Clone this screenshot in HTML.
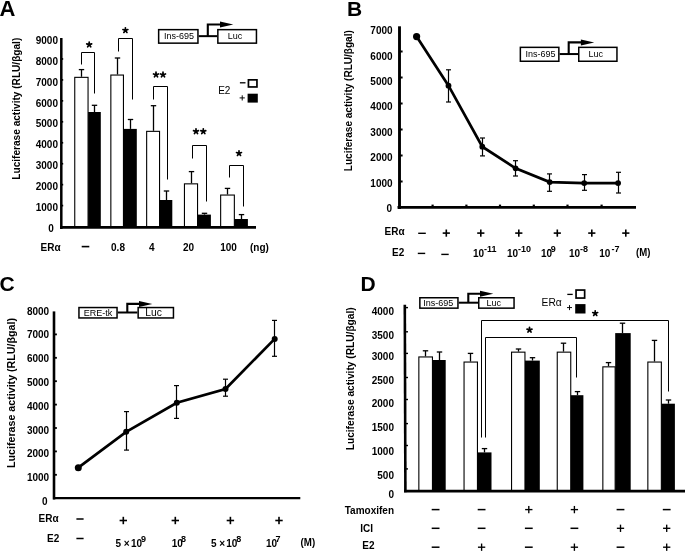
<!DOCTYPE html>
<html><head><meta charset="utf-8"><style>
html,body{margin:0;padding:0;background:#fff;overflow:hidden;}
svg{display:block;font-family:"Liberation Sans", sans-serif;filter:grayscale(1);}
</style></head><body>
<svg width="685" height="551" viewBox="0 0 685 551">
<rect width="685" height="551" fill="#fff"/>
<text x="-0.5" y="15.7" font-size="22" font-weight="bold" text-anchor="start" fill="#000" >A</text>
<text transform="translate(20.2,108.7) rotate(-90)" x="0" y="0" font-size="10" font-weight="bold" text-anchor="middle" textLength="142" lengthAdjust="spacingAndGlyphs">Luciferase activity (RLU/βgal)</text>
<text x="58" y="43.800000000000004" font-size="10" font-weight="bold" text-anchor="end" fill="#000" >9000</text>
<text x="58" y="64.72" font-size="10" font-weight="bold" text-anchor="end" fill="#000" >8000</text>
<text x="58" y="85.64" font-size="10" font-weight="bold" text-anchor="end" fill="#000" >7000</text>
<text x="58" y="106.56" font-size="10" font-weight="bold" text-anchor="end" fill="#000" >6000</text>
<text x="58" y="127.48" font-size="10" font-weight="bold" text-anchor="end" fill="#000" >5000</text>
<text x="58" y="148.4" font-size="10" font-weight="bold" text-anchor="end" fill="#000" >4000</text>
<text x="58" y="169.32000000000002" font-size="10" font-weight="bold" text-anchor="end" fill="#000" >3000</text>
<text x="58" y="190.23999999999998" font-size="10" font-weight="bold" text-anchor="end" fill="#000" >2000</text>
<text x="58" y="211.16" font-size="10" font-weight="bold" text-anchor="end" fill="#000" >1000</text>
<text x="53.9" y="232.08" font-size="10" font-weight="bold" text-anchor="end" fill="#000" >0</text>
<line x1="61" y1="58.95" x2="63.2" y2="58.95" stroke="#000" stroke-width="1.7"/>
<line x1="61" y1="79.9" x2="63.2" y2="79.9" stroke="#000" stroke-width="1.7"/>
<line x1="61" y1="100.85" x2="63.2" y2="100.85" stroke="#000" stroke-width="1.7"/>
<line x1="61" y1="121.8" x2="63.2" y2="121.8" stroke="#000" stroke-width="1.7"/>
<line x1="61" y1="142.75" x2="63.2" y2="142.75" stroke="#000" stroke-width="1.7"/>
<line x1="61" y1="163.7" x2="63.2" y2="163.7" stroke="#000" stroke-width="1.7"/>
<line x1="61" y1="184.65" x2="63.2" y2="184.65" stroke="#000" stroke-width="1.7"/>
<line x1="61" y1="205.6" x2="63.2" y2="205.6" stroke="#000" stroke-width="1.7"/>
<line x1="81.5" y1="69.6" x2="81.5" y2="76.8" stroke="#000" stroke-width="1.3"/>
<line x1="78.8" y1="69.6" x2="84.2" y2="69.6" stroke="#000" stroke-width="1.3"/>
<line x1="94.5" y1="105.3" x2="94.5" y2="112" stroke="#000" stroke-width="1.3"/>
<line x1="91.8" y1="105.3" x2="97.2" y2="105.3" stroke="#000" stroke-width="1.3"/>
<rect x="74.75" y="77.35" width="13.299999999999992" height="149.79999999999998" fill="#fff" stroke="#000" stroke-width="1.1"/>
<rect x="88.1" y="112" width="12.700000000000003" height="115.69999999999999" fill="#000"/>
<line x1="117.5" y1="58.0" x2="117.5" y2="74.5" stroke="#000" stroke-width="1.3"/>
<line x1="114.8" y1="58.0" x2="120.2" y2="58.0" stroke="#000" stroke-width="1.3"/>
<line x1="130.5" y1="119.5" x2="130.5" y2="128.9" stroke="#000" stroke-width="1.3"/>
<line x1="127.8" y1="119.5" x2="133.2" y2="119.5" stroke="#000" stroke-width="1.3"/>
<rect x="110.85" y="75.05" width="12.600000000000003" height="152.1" fill="#fff" stroke="#000" stroke-width="1.1"/>
<rect x="123.5" y="128.9" width="13.300000000000011" height="98.79999999999998" fill="#000"/>
<line x1="153.5" y1="105.7" x2="153.5" y2="130.8" stroke="#000" stroke-width="1.3"/>
<line x1="150.8" y1="105.7" x2="156.2" y2="105.7" stroke="#000" stroke-width="1.3"/>
<line x1="166.5" y1="191" x2="166.5" y2="200" stroke="#000" stroke-width="1.3"/>
<line x1="163.8" y1="191" x2="169.2" y2="191" stroke="#000" stroke-width="1.3"/>
<rect x="146.65" y="131.35000000000002" width="12.9" height="95.79999999999998" fill="#fff" stroke="#000" stroke-width="1.1"/>
<rect x="159.6" y="200" width="12.700000000000017" height="27.69999999999999" fill="#000"/>
<line x1="191.5" y1="171.6" x2="191.5" y2="183.3" stroke="#000" stroke-width="1.3"/>
<line x1="188.8" y1="171.6" x2="194.2" y2="171.6" stroke="#000" stroke-width="1.3"/>
<line x1="204.5" y1="213.3" x2="204.5" y2="214.6" stroke="#000" stroke-width="1.3"/>
<line x1="201.8" y1="213.3" x2="207.2" y2="213.3" stroke="#000" stroke-width="1.3"/>
<rect x="184.45000000000002" y="183.85000000000002" width="13.099999999999989" height="43.299999999999976" fill="#fff" stroke="#000" stroke-width="1.1"/>
<rect x="197.6" y="214.6" width="13.300000000000011" height="13.099999999999994" fill="#000"/>
<line x1="227.5" y1="188.4" x2="227.5" y2="194.5" stroke="#000" stroke-width="1.3"/>
<line x1="224.8" y1="188.4" x2="230.2" y2="188.4" stroke="#000" stroke-width="1.3"/>
<line x1="241.5" y1="214.6" x2="241.5" y2="219" stroke="#000" stroke-width="1.3"/>
<line x1="238.8" y1="214.6" x2="244.2" y2="214.6" stroke="#000" stroke-width="1.3"/>
<rect x="220.65" y="195.05" width="13.700000000000012" height="32.09999999999999" fill="#fff" stroke="#000" stroke-width="1.1"/>
<rect x="234.4" y="219" width="13.5" height="8.699999999999989" fill="#000"/>
<line x1="61.3" y1="38" x2="61.3" y2="229" stroke="#000" stroke-width="2.5"/>
<line x1="60" y1="227.4" x2="256" y2="227.4" stroke="#000" stroke-width="2.9"/>
<polyline points="81.5,64.5 81.5,52.5 94.5,52.5 94.5,93.5" fill="none" stroke="#000" stroke-width="1.0" stroke-linejoin="miter"/>
<polyline points="118.5,51.5 118.5,38.5 132.5,38.5 132.5,99.5" fill="none" stroke="#000" stroke-width="1.0" stroke-linejoin="miter"/>
<polyline points="153.5,99.5 153.5,86.5 167.5,86.5 167.5,179.5" fill="none" stroke="#000" stroke-width="1.0" stroke-linejoin="miter"/>
<polyline points="192.5,158.5 192.5,145.5 206.5,145.5 206.5,201.5" fill="none" stroke="#000" stroke-width="1.0" stroke-linejoin="miter"/>
<polyline points="229.5,177.5 229.5,165.5 243.5,165.5 243.5,206.5" fill="none" stroke="#000" stroke-width="1.0" stroke-linejoin="miter"/>
<path d="M89.20,44.65L89.20,42.05M89.20,44.65L91.67,43.85M89.20,44.65L90.73,46.75M89.20,44.65L87.67,46.75M89.20,44.65L86.73,43.85" stroke="#000" stroke-width="1.7" stroke-linecap="round" fill="none"/>
<circle cx="89.2" cy="44.65" r="1.3" fill="#000"/>
<path d="M125.40,30.35L125.40,27.75M125.40,30.35L127.87,29.55M125.40,30.35L126.93,32.45M125.40,30.35L123.87,32.45M125.40,30.35L122.93,29.55" stroke="#000" stroke-width="1.7" stroke-linecap="round" fill="none"/>
<circle cx="125.4" cy="30.35" r="1.3" fill="#000"/>
<path d="M156.00,74.75L156.00,72.15M156.00,74.75L158.47,73.95M156.00,74.75L157.53,76.85M156.00,74.75L154.47,76.85M156.00,74.75L153.53,73.95" stroke="#000" stroke-width="1.7" stroke-linecap="round" fill="none"/>
<circle cx="156.0" cy="74.75" r="1.3" fill="#000"/>
<path d="M163.00,74.75L163.00,72.15M163.00,74.75L165.47,73.95M163.00,74.75L164.53,76.85M163.00,74.75L161.47,76.85M163.00,74.75L160.53,73.95" stroke="#000" stroke-width="1.7" stroke-linecap="round" fill="none"/>
<circle cx="163.0" cy="74.75" r="1.3" fill="#000"/>
<path d="M196.00,131.45L196.00,128.85M196.00,131.45L198.47,130.65M196.00,131.45L197.53,133.55M196.00,131.45L194.47,133.55M196.00,131.45L193.53,130.65" stroke="#000" stroke-width="1.7" stroke-linecap="round" fill="none"/>
<circle cx="196.0" cy="131.45" r="1.3" fill="#000"/>
<path d="M203.30,131.45L203.30,128.85M203.30,131.45L205.77,130.65M203.30,131.45L204.83,133.55M203.30,131.45L201.77,133.55M203.30,131.45L200.83,130.65" stroke="#000" stroke-width="1.7" stroke-linecap="round" fill="none"/>
<circle cx="203.3" cy="131.45" r="1.3" fill="#000"/>
<path d="M239.00,153.35L239.00,150.75M239.00,153.35L241.47,152.55M239.00,153.35L240.53,155.45M239.00,153.35L237.47,155.45M239.00,153.35L236.53,152.55" stroke="#000" stroke-width="1.7" stroke-linecap="round" fill="none"/>
<circle cx="239" cy="153.35" r="1.3" fill="#000"/>
<text x="218.2" y="94.2" font-size="10" font-weight="normal" text-anchor="start" fill="#000" >E2</text>
<g fill="#333">
<rect x="239.89999999999998" y="82.14999999999999" width="5.600000000000023" height="1.3000000000000114" fill="#000"/>
</g>
<g fill="#777">
<rect x="239.6" y="97.42500000000001" width="5.199999999999989" height="0.9499999999999886" fill="#000"/>
<rect x="241.725" y="95.30000000000001" width="0.9499999999999886" height="5.199999999999989" fill="#000"/>
</g>
<rect x="248.45" y="79.85" width="8.500000000000018" height="7.099999999999997" fill="#fff" stroke="#000" stroke-width="1.7"/>
<rect x="247.6" y="93.7" width="10.200000000000017" height="8.899999999999991" fill="#000"/>
<rect x="158.65" y="29.65" width="39.29999999999998" height="13.5" fill="#fff" stroke="#000" stroke-width="1.5"/>
<rect x="217.85" y="29.65" width="38.599999999999994" height="13.5" fill="#fff" stroke="#000" stroke-width="1.5"/>
<line x1="198.7" y1="36.15" x2="217.1" y2="36.15" stroke="#000" stroke-width="2"/>
<polyline points="207.8,36.15 207.8,24.5 223.3,24.5" fill="none" stroke="#000" stroke-width="2.1" stroke-linejoin="miter"/>
<polygon points="220.0,21.5 233.3,24.5 220.0,27.5" fill="#000"/>
<text x="179" y="39.449999999999996" font-size="9" font-weight="normal" text-anchor="middle" fill="#000" >Ins-695</text>
<text x="235" y="39.449999999999996" font-size="9" font-weight="normal" text-anchor="middle" fill="#000" >Luc</text>
<text x="40.6" y="250.6" font-size="10" font-weight="bold" text-anchor="start" fill="#000" >ERα</text>
<rect x="81.7" y="245.79999999999998" width="7.599999999999994" height="1.6000000000000227" fill="#000"/>
<text x="118" y="250.6" font-size="10" font-weight="bold" text-anchor="middle" fill="#000" >0.8</text>
<text x="151.7" y="250.6" font-size="10" font-weight="bold" text-anchor="middle" fill="#000" >4</text>
<text x="188.5" y="250.6" font-size="10" font-weight="bold" text-anchor="middle" fill="#000" >20</text>
<text x="228.6" y="250.6" font-size="10" font-weight="bold" text-anchor="middle" fill="#000" >100</text>
<text x="250" y="251" font-size="10" font-weight="bold" text-anchor="start" fill="#000" >(ng)</text>
<text x="347" y="15.6" font-size="21" font-weight="bold" text-anchor="start" fill="#000" >B</text>
<text transform="translate(351.8,100.7) rotate(-90)" x="0" y="0" font-size="10" font-weight="bold" text-anchor="middle" textLength="141" lengthAdjust="spacingAndGlyphs">Luciferase activity (RLU/βgal)</text>
<text x="392.6" y="34.1" font-size="10" font-weight="bold" text-anchor="end" fill="#000" >7000</text>
<text x="392.6" y="59.53" font-size="10" font-weight="bold" text-anchor="end" fill="#000" >6000</text>
<text x="392.6" y="84.96" font-size="10" font-weight="bold" text-anchor="end" fill="#000" >5000</text>
<text x="392.6" y="110.38999999999999" font-size="10" font-weight="bold" text-anchor="end" fill="#000" >4000</text>
<text x="392.6" y="135.82" font-size="10" font-weight="bold" text-anchor="end" fill="#000" >3000</text>
<text x="392.6" y="161.25" font-size="10" font-weight="bold" text-anchor="end" fill="#000" >2000</text>
<text x="392.6" y="186.67999999999998" font-size="10" font-weight="bold" text-anchor="end" fill="#000" >1000</text>
<text x="392.1" y="212.10999999999999" font-size="10" font-weight="bold" text-anchor="end" fill="#000" >0</text>
<line x1="400" y1="181.5" x2="402.6" y2="181.5" stroke="#000" stroke-width="2.0"/>
<line x1="400" y1="155.5" x2="402.6" y2="155.5" stroke="#000" stroke-width="2.0"/>
<line x1="400" y1="129.5" x2="402.6" y2="129.5" stroke="#000" stroke-width="2.0"/>
<line x1="400" y1="103.5" x2="402.6" y2="103.5" stroke="#000" stroke-width="2.0"/>
<line x1="400" y1="77.5" x2="402.6" y2="77.5" stroke="#000" stroke-width="2.0"/>
<line x1="400" y1="51.5" x2="402.6" y2="51.5" stroke="#000" stroke-width="2.0"/>
<line x1="399.5" y1="26.3" x2="399.5" y2="209" stroke="#000" stroke-width="2.9"/>
<line x1="397.5" y1="207.4" x2="636" y2="207.4" stroke="#000" stroke-width="2.9"/>
<line x1="432.6" y1="204.6" x2="432.6" y2="207" stroke="#000" stroke-width="2.2"/>
<line x1="466.4" y1="204.6" x2="466.4" y2="207" stroke="#000" stroke-width="2.2"/>
<line x1="500" y1="204.6" x2="500" y2="207" stroke="#000" stroke-width="2.2"/>
<line x1="533.8" y1="204.6" x2="533.8" y2="207" stroke="#000" stroke-width="2.2"/>
<line x1="567.5" y1="204.6" x2="567.5" y2="207" stroke="#000" stroke-width="2.2"/>
<line x1="601.6" y1="204.6" x2="601.6" y2="207" stroke="#000" stroke-width="2.2"/>
<line x1="448.5" y1="69.8" x2="448.5" y2="102" stroke="#000" stroke-width="1.2"/>
<line x1="446.0" y1="69.8" x2="451.0" y2="69.8" stroke="#000" stroke-width="1.2"/>
<line x1="446.0" y1="102" x2="451.0" y2="102" stroke="#000" stroke-width="1.2"/>
<line x1="482.5" y1="138" x2="482.5" y2="155.9" stroke="#000" stroke-width="1.2"/>
<line x1="480.0" y1="138" x2="485.0" y2="138" stroke="#000" stroke-width="1.2"/>
<line x1="480.0" y1="155.9" x2="485.0" y2="155.9" stroke="#000" stroke-width="1.2"/>
<line x1="515.5" y1="160.7" x2="515.5" y2="176" stroke="#000" stroke-width="1.2"/>
<line x1="513.0" y1="160.7" x2="518.0" y2="160.7" stroke="#000" stroke-width="1.2"/>
<line x1="513.0" y1="176" x2="518.0" y2="176" stroke="#000" stroke-width="1.2"/>
<line x1="549.5" y1="173.9" x2="549.5" y2="191.3" stroke="#000" stroke-width="1.2"/>
<line x1="547.0" y1="173.9" x2="552.0" y2="173.9" stroke="#000" stroke-width="1.2"/>
<line x1="547.0" y1="191.3" x2="552.0" y2="191.3" stroke="#000" stroke-width="1.2"/>
<line x1="584.5" y1="174.6" x2="584.5" y2="190.3" stroke="#000" stroke-width="1.2"/>
<line x1="582.0" y1="174.6" x2="587.0" y2="174.6" stroke="#000" stroke-width="1.2"/>
<line x1="582.0" y1="190.3" x2="587.0" y2="190.3" stroke="#000" stroke-width="1.2"/>
<line x1="618.5" y1="172.3" x2="618.5" y2="193" stroke="#000" stroke-width="1.2"/>
<line x1="616.0" y1="172.3" x2="621.0" y2="172.3" stroke="#000" stroke-width="1.2"/>
<line x1="616.0" y1="193" x2="621.0" y2="193" stroke="#000" stroke-width="1.2"/>
<polyline points="416.6,36.6 448.5,85.7 482.3,146.7 515.6,168.3 549.7,182.1 584.2,183.1 618.1,183.1" fill="none" stroke="#000" stroke-width="2.7" stroke-linejoin="miter"/>
<circle cx="416.6" cy="36.6" r="3.6" fill="#000"/>
<circle cx="448.5" cy="85.7" r="2.9" fill="#000"/>
<circle cx="482.3" cy="146.7" r="2.9" fill="#000"/>
<circle cx="515.6" cy="168.3" r="2.9" fill="#000"/>
<circle cx="549.7" cy="182.1" r="2.9" fill="#000"/>
<circle cx="584.2" cy="183.1" r="2.9" fill="#000"/>
<circle cx="618.1" cy="183.1" r="2.9" fill="#000"/>
<rect x="520.35" y="47.35" width="38.5" height="13.899999999999999" fill="#fff" stroke="#000" stroke-width="1.5"/>
<rect x="578.75" y="47.35" width="38.200000000000045" height="13.899999999999999" fill="#fff" stroke="#000" stroke-width="1.5"/>
<line x1="559.6" y1="54.05" x2="578" y2="54.05" stroke="#000" stroke-width="2"/>
<polyline points="568.7,54.05 568.7,42.4 584.2,42.4" fill="none" stroke="#000" stroke-width="2.1" stroke-linejoin="miter"/>
<polygon points="580.9000000000001,39.4 594.2,42.4 580.9000000000001,45.4" fill="#000"/>
<text x="540.5" y="57.349999999999994" font-size="9" font-weight="normal" text-anchor="middle" fill="#000" >Ins-695</text>
<text x="595.7" y="57.349999999999994" font-size="9" font-weight="normal" text-anchor="middle" fill="#000" >Luc</text>
<text x="384.6" y="234.6" font-size="10" font-weight="bold" text-anchor="start" fill="#000" >ERα</text>
<text x="392" y="255.6" font-size="10" font-weight="bold" text-anchor="start" fill="#000" >E2</text>
<rect x="418.2" y="232.60000000000002" width="7.600000000000023" height="1.3999999999999773" fill="#000"/>
<rect x="442.7" y="232.29999999999998" width="7.2000000000000455" height="1.6000000000000227" fill="#000"/>
<rect x="445.5" y="229.5" width="1.6000000000000227" height="7.199999999999989" fill="#000"/>
<rect x="477.2" y="232.29999999999998" width="7.2000000000000455" height="1.6000000000000227" fill="#000"/>
<rect x="480.0" y="229.5" width="1.6000000000000227" height="7.199999999999989" fill="#000"/>
<rect x="515.1999999999999" y="232.29999999999998" width="7.2000000000000455" height="1.6000000000000227" fill="#000"/>
<rect x="518.0" y="229.5" width="1.599999999999909" height="7.199999999999989" fill="#000"/>
<rect x="553.6999999999999" y="232.29999999999998" width="7.2000000000000455" height="1.6000000000000227" fill="#000"/>
<rect x="556.5" y="229.5" width="1.599999999999909" height="7.199999999999989" fill="#000"/>
<rect x="588.1999999999999" y="232.29999999999998" width="7.2000000000000455" height="1.6000000000000227" fill="#000"/>
<rect x="591.0" y="229.5" width="1.599999999999909" height="7.199999999999989" fill="#000"/>
<rect x="622.1999999999999" y="232.29999999999998" width="7.2000000000000455" height="1.6000000000000227" fill="#000"/>
<rect x="625.0" y="229.5" width="1.599999999999909" height="7.199999999999989" fill="#000"/>
<rect x="417.8" y="252.70000000000002" width="7.399999999999977" height="1.3999999999999773" fill="#000"/>
<rect x="441.3" y="253.70000000000002" width="7.399999999999977" height="1.3999999999999773" fill="#000"/>
<text x="473" y="256.6" font-size="10" font-weight="bold" text-anchor="start" fill="#000" >10</text>
<text x="484.1" y="252.20000000000002" font-size="9" font-weight="bold" text-anchor="start" fill="#000" >-11</text>
<text x="507" y="256.6" font-size="10" font-weight="bold" text-anchor="start" fill="#000" >10</text>
<text x="518.1" y="252.20000000000002" font-size="9" font-weight="bold" text-anchor="start" fill="#000" >-10</text>
<text x="541" y="256.6" font-size="10" font-weight="bold" text-anchor="start" fill="#000" >10</text>
<text x="547.8000000000001" y="252.20000000000002" font-size="9" font-weight="bold" text-anchor="start" fill="#000" >-9</text>
<text x="569" y="256.6" font-size="10" font-weight="bold" text-anchor="start" fill="#000" >10</text>
<text x="580.1" y="252.20000000000002" font-size="9" font-weight="bold" text-anchor="start" fill="#000" >-8</text>
<text x="599.3" y="256.6" font-size="10" font-weight="bold" text-anchor="start" fill="#000" >10</text>
<text x="611.4" y="252.20000000000002" font-size="9" font-weight="bold" text-anchor="start" fill="#000" >-7</text>
<text x="636" y="255.6" font-size="10" font-weight="bold" text-anchor="start" fill="#000" textLength="14.4" lengthAdjust="spacingAndGlyphs">(M)</text>
<text x="-0.5" y="290.7" font-size="21" font-weight="bold" text-anchor="start" fill="#000" >C</text>
<text transform="translate(15,393) rotate(-90)" x="0" y="0" font-size="10" font-weight="bold" text-anchor="middle" textLength="150" lengthAdjust="spacingAndGlyphs">Luciferase activity (RLU/βgal)</text>
<text x="49.2" y="314.5" font-size="10" font-weight="bold" text-anchor="end" fill="#000" >8000</text>
<text x="49.2" y="338.33" font-size="10" font-weight="bold" text-anchor="end" fill="#000" >7000</text>
<text x="49.2" y="362.15999999999997" font-size="10" font-weight="bold" text-anchor="end" fill="#000" >6000</text>
<text x="49.2" y="385.99" font-size="10" font-weight="bold" text-anchor="end" fill="#000" >5000</text>
<text x="49.2" y="409.82" font-size="10" font-weight="bold" text-anchor="end" fill="#000" >4000</text>
<text x="49.2" y="433.65" font-size="10" font-weight="bold" text-anchor="end" fill="#000" >3000</text>
<text x="49.2" y="457.48" font-size="10" font-weight="bold" text-anchor="end" fill="#000" >2000</text>
<text x="49.2" y="481.31" font-size="10" font-weight="bold" text-anchor="end" fill="#000" >1000</text>
<text x="47.5" y="505.14" font-size="10" font-weight="bold" text-anchor="end" fill="#000" >0</text>
<line x1="54" y1="474.8" x2="56.9" y2="474.8" stroke="#000" stroke-width="1.8"/>
<line x1="54" y1="451.4" x2="56.9" y2="451.4" stroke="#000" stroke-width="1.8"/>
<line x1="54" y1="428.0" x2="56.9" y2="428.0" stroke="#000" stroke-width="1.8"/>
<line x1="54" y1="404.6" x2="56.9" y2="404.6" stroke="#000" stroke-width="1.8"/>
<line x1="54" y1="381.2" x2="56.9" y2="381.2" stroke="#000" stroke-width="1.8"/>
<line x1="54" y1="357.8" x2="56.9" y2="357.8" stroke="#000" stroke-width="1.8"/>
<line x1="54" y1="334.4" x2="56.9" y2="334.4" stroke="#000" stroke-width="1.8"/>
<line x1="54" y1="311.4" x2="54" y2="499.5" stroke="#000" stroke-width="2.6"/>
<line x1="53" y1="498.2" x2="300.3" y2="498.2" stroke="#000" stroke-width="2.3"/>
<line x1="126.5" y1="411.6" x2="126.5" y2="450.1" stroke="#000" stroke-width="1.2"/>
<line x1="124.0" y1="411.6" x2="129.0" y2="411.6" stroke="#000" stroke-width="1.2"/>
<line x1="124.0" y1="450.1" x2="129.0" y2="450.1" stroke="#000" stroke-width="1.2"/>
<line x1="176.5" y1="385.6" x2="176.5" y2="418.4" stroke="#000" stroke-width="1.2"/>
<line x1="174.0" y1="385.6" x2="179.0" y2="385.6" stroke="#000" stroke-width="1.2"/>
<line x1="174.0" y1="418.4" x2="179.0" y2="418.4" stroke="#000" stroke-width="1.2"/>
<line x1="225.5" y1="379.2" x2="225.5" y2="396.2" stroke="#000" stroke-width="1.2"/>
<line x1="223.0" y1="379.2" x2="228.0" y2="379.2" stroke="#000" stroke-width="1.2"/>
<line x1="223.0" y1="396.2" x2="228.0" y2="396.2" stroke="#000" stroke-width="1.2"/>
<line x1="274.5" y1="320.4" x2="274.5" y2="356.3" stroke="#000" stroke-width="1.2"/>
<line x1="272.0" y1="320.4" x2="277.0" y2="320.4" stroke="#000" stroke-width="1.2"/>
<line x1="272.0" y1="356.3" x2="277.0" y2="356.3" stroke="#000" stroke-width="1.2"/>
<polyline points="78.3,467.7 126.2,431.8 176.8,402.8 225.5,389 274.7,338.9" fill="none" stroke="#000" stroke-width="2.7" stroke-linejoin="miter"/>
<circle cx="78.3" cy="467.7" r="3.5" fill="#000"/>
<circle cx="126.2" cy="431.8" r="3.0" fill="#000"/>
<circle cx="176.8" cy="402.8" r="3.0" fill="#000"/>
<circle cx="225.5" cy="389" r="3.0" fill="#000"/>
<circle cx="274.7" cy="338.9" r="3.0" fill="#000"/>
<rect x="78.95" y="307.55" width="38.099999999999994" height="10.399999999999977" fill="#fff" stroke="#000" stroke-width="1.5"/>
<rect x="138.15" y="307.55" width="35.29999999999998" height="10.399999999999977" fill="#fff" stroke="#000" stroke-width="1.5"/>
<line x1="117.8" y1="312.5" x2="137.4" y2="312.5" stroke="#000" stroke-width="2"/>
<polyline points="127.3,312.5 127.3,303.9 142.3,303.9" fill="none" stroke="#000" stroke-width="2.1" stroke-linejoin="miter"/>
<polygon points="139.0,300.9 152.3,303.9 139.0,306.9" fill="#000"/>
<text x="98" y="315.8" font-size="9" font-weight="normal" text-anchor="middle" fill="#000" >ERE-tk</text>
<text x="153.6" y="316.0" font-size="10.3" font-weight="normal" text-anchor="middle" fill="#000" >Luc</text>
<text x="38.6" y="521.6" font-size="10" font-weight="bold" text-anchor="start" fill="#000" >ERα</text>
<text x="47" y="542.4" font-size="10" font-weight="bold" text-anchor="start" fill="#000" >E2</text>
<rect x="76.4" y="518.25" width="7.199999999999989" height="1.5" fill="#000"/>
<rect x="76.4" y="537.75" width="7.199999999999989" height="1.5" fill="#000"/>
<rect x="119.6" y="519.7" width="7.400000000000006" height="1.599999999999909" fill="#000"/>
<rect x="122.5" y="516.8" width="1.5999999999999943" height="7.400000000000091" fill="#000"/>
<rect x="171.60000000000002" y="519.7" width="7.399999999999977" height="1.599999999999909" fill="#000"/>
<rect x="174.5" y="516.8" width="1.6000000000000227" height="7.400000000000091" fill="#000"/>
<rect x="226.70000000000002" y="519.7" width="7.399999999999977" height="1.599999999999909" fill="#000"/>
<rect x="229.6" y="516.8" width="1.6000000000000227" height="7.400000000000091" fill="#000"/>
<rect x="275.3" y="519.7" width="7.399999999999977" height="1.599999999999909" fill="#000"/>
<rect x="278.2" y="516.8" width="1.6000000000000227" height="7.400000000000091" fill="#000"/>
<text x="115.6" y="547.4" font-size="10" font-weight="bold" text-anchor="start" fill="#000" >5</text>
<text x="123.8" y="547.1" font-size="10" font-weight="bold" text-anchor="start" fill="#000" >×</text>
<text x="130.9" y="547.4" font-size="10" font-weight="bold" text-anchor="start" fill="#000" >10</text>
<text x="140.9" y="542.4" font-size="9" font-weight="bold" text-anchor="start" fill="#000" >9</text>
<text x="171.8" y="547.4" font-size="10" font-weight="bold" text-anchor="start" fill="#000" >10</text>
<text x="181.1" y="542.4" font-size="9" font-weight="bold" text-anchor="start" fill="#000" >8</text>
<text x="211" y="547.4" font-size="10" font-weight="bold" text-anchor="start" fill="#000" >5</text>
<text x="219.2" y="547.1" font-size="10" font-weight="bold" text-anchor="start" fill="#000" >×</text>
<text x="226.3" y="547.4" font-size="10" font-weight="bold" text-anchor="start" fill="#000" >10</text>
<text x="236.3" y="542.4" font-size="9" font-weight="bold" text-anchor="start" fill="#000" >8</text>
<text x="266" y="547.4" font-size="10" font-weight="bold" text-anchor="start" fill="#000" >10</text>
<text x="275.5" y="542.4" font-size="9" font-weight="bold" text-anchor="start" fill="#000" >7</text>
<text x="300.6" y="546.3" font-size="10" font-weight="bold" text-anchor="start" fill="#000" textLength="14.6" lengthAdjust="spacingAndGlyphs">(M)</text>
<text x="360.5" y="291.1" font-size="21" font-weight="bold" text-anchor="start" fill="#000" >D</text>
<text transform="translate(353.6,378.8) rotate(-90)" x="0" y="0" font-size="10" font-weight="bold" text-anchor="middle" textLength="143" lengthAdjust="spacingAndGlyphs">Luciferase activity (RLU/βgal)</text>
<text x="394" y="314.6" font-size="10" font-weight="bold" text-anchor="end" fill="#000" >4000</text>
<text x="394" y="338.6" font-size="10" font-weight="bold" text-anchor="end" fill="#000" >3500</text>
<text x="394" y="360.3" font-size="10" font-weight="bold" text-anchor="end" fill="#000" >3000</text>
<text x="394" y="384.3" font-size="10" font-weight="bold" text-anchor="end" fill="#000" >2500</text>
<text x="394" y="406.6" font-size="10" font-weight="bold" text-anchor="end" fill="#000" >2000</text>
<text x="394" y="430.70000000000005" font-size="10" font-weight="bold" text-anchor="end" fill="#000" >1500</text>
<text x="394" y="454.6" font-size="10" font-weight="bold" text-anchor="end" fill="#000" >1000</text>
<text x="394" y="478.70000000000005" font-size="10" font-weight="bold" text-anchor="end" fill="#000" >500</text>
<text x="394" y="497.70000000000005" font-size="10" font-weight="bold" text-anchor="end" fill="#000" >0</text>
<line x1="405" y1="307.6" x2="408" y2="307.6" stroke="#000" stroke-width="1.4"/>
<line x1="405" y1="331.8" x2="408" y2="331.8" stroke="#000" stroke-width="1.4"/>
<line x1="405" y1="353.4" x2="408" y2="353.4" stroke="#000" stroke-width="1.4"/>
<line x1="405" y1="377.5" x2="408" y2="377.5" stroke="#000" stroke-width="1.4"/>
<line x1="405" y1="399.5" x2="408" y2="399.5" stroke="#000" stroke-width="1.4"/>
<line x1="405" y1="423.6" x2="408" y2="423.6" stroke="#000" stroke-width="1.4"/>
<line x1="405" y1="445.5" x2="408" y2="445.5" stroke="#000" stroke-width="1.4"/>
<line x1="405" y1="468.9" x2="408" y2="468.9" stroke="#000" stroke-width="1.4"/>
<line x1="425.5" y1="350.8" x2="425.5" y2="356.4" stroke="#000" stroke-width="1.3"/>
<line x1="422.8" y1="350.8" x2="428.2" y2="350.8" stroke="#000" stroke-width="1.3"/>
<line x1="439.5" y1="352" x2="439.5" y2="360" stroke="#000" stroke-width="1.3"/>
<line x1="436.8" y1="352" x2="442.2" y2="352" stroke="#000" stroke-width="1.3"/>
<rect x="418.85" y="356.95" width="13.599999999999989" height="133.70000000000002" fill="#fff" stroke="#000" stroke-width="1.1"/>
<rect x="432.5" y="360" width="13.199999999999989" height="131.2" fill="#000"/>
<line x1="470.5" y1="353.4" x2="470.5" y2="361.5" stroke="#000" stroke-width="1.3"/>
<line x1="467.8" y1="353.4" x2="473.2" y2="353.4" stroke="#000" stroke-width="1.3"/>
<line x1="484.5" y1="448.6" x2="484.5" y2="452.4" stroke="#000" stroke-width="1.3"/>
<line x1="481.8" y1="448.6" x2="487.2" y2="448.6" stroke="#000" stroke-width="1.3"/>
<rect x="464.05" y="362.05" width="13.4" height="128.6" fill="#fff" stroke="#000" stroke-width="1.1"/>
<rect x="477.5" y="452.4" width="14.0" height="38.80000000000001" fill="#000"/>
<line x1="518.5" y1="349" x2="518.5" y2="351.6" stroke="#000" stroke-width="1.3"/>
<line x1="515.8" y1="349" x2="521.2" y2="349" stroke="#000" stroke-width="1.3"/>
<line x1="532.5" y1="357.7" x2="532.5" y2="360.6" stroke="#000" stroke-width="1.3"/>
<line x1="529.8" y1="357.7" x2="535.2" y2="357.7" stroke="#000" stroke-width="1.3"/>
<rect x="511.55" y="352.15000000000003" width="13.4" height="138.49999999999997" fill="#fff" stroke="#000" stroke-width="1.1"/>
<rect x="525" y="360.6" width="14.799999999999955" height="130.59999999999997" fill="#000"/>
<line x1="563.5" y1="343.2" x2="563.5" y2="351.6" stroke="#000" stroke-width="1.3"/>
<line x1="560.8" y1="343.2" x2="566.2" y2="343.2" stroke="#000" stroke-width="1.3"/>
<line x1="577.5" y1="391.6" x2="577.5" y2="395.2" stroke="#000" stroke-width="1.3"/>
<line x1="574.8" y1="391.6" x2="580.2" y2="391.6" stroke="#000" stroke-width="1.3"/>
<rect x="557.25" y="352.15000000000003" width="13.49999999999991" height="138.49999999999997" fill="#fff" stroke="#000" stroke-width="1.1"/>
<rect x="570.8" y="395.2" width="12.600000000000023" height="96.0" fill="#000"/>
<line x1="608.5" y1="362.6" x2="608.5" y2="366.3" stroke="#000" stroke-width="1.3"/>
<line x1="605.8" y1="362.6" x2="611.2" y2="362.6" stroke="#000" stroke-width="1.3"/>
<line x1="622.5" y1="323.2" x2="622.5" y2="333.1" stroke="#000" stroke-width="1.3"/>
<line x1="619.8" y1="323.2" x2="625.2" y2="323.2" stroke="#000" stroke-width="1.3"/>
<rect x="602.8499999999999" y="366.85" width="12.300000000000091" height="123.79999999999998" fill="#fff" stroke="#000" stroke-width="1.1"/>
<rect x="615.2" y="333.1" width="15.5" height="158.09999999999997" fill="#000"/>
<line x1="654.5" y1="340.4" x2="654.5" y2="361.5" stroke="#000" stroke-width="1.3"/>
<line x1="651.8" y1="340.4" x2="657.2" y2="340.4" stroke="#000" stroke-width="1.3"/>
<line x1="668.5" y1="400" x2="668.5" y2="403.7" stroke="#000" stroke-width="1.3"/>
<line x1="665.8" y1="400" x2="671.2" y2="400" stroke="#000" stroke-width="1.3"/>
<rect x="647.8499999999999" y="362.05" width="13.500000000000023" height="128.6" fill="#fff" stroke="#000" stroke-width="1.1"/>
<rect x="661.4" y="403.7" width="13.5" height="87.5" fill="#000"/>
<line x1="404.8" y1="304.8" x2="405.4" y2="492.3" stroke="#000" stroke-width="2.6"/>
<line x1="404" y1="491.1" x2="685" y2="491.1" stroke="#000" stroke-width="2.6"/>
<polyline points="481.5,437.5 481.5,320.5 668.5,320.5 668.5,391.5" fill="none" stroke="#000" stroke-width="1.0" stroke-linejoin="miter"/>
<polyline points="485.5,437.5 485.5,337.5 576.5,337.5 576.5,377.5" fill="none" stroke="#000" stroke-width="1.0" stroke-linejoin="miter"/>
<path d="M529.50,329.95L529.50,327.35M529.50,329.95L531.97,329.15M529.50,329.95L531.03,332.05M529.50,329.95L527.97,332.05M529.50,329.95L527.03,329.15" stroke="#000" stroke-width="1.7" stroke-linecap="round" fill="none"/>
<circle cx="529.5" cy="329.95000000000005" r="1.3" fill="#000"/>
<path d="M595.20,313.35L595.20,310.75M595.20,313.35L597.67,312.55M595.20,313.35L596.73,315.45M595.20,313.35L593.67,315.45M595.20,313.35L592.73,312.55" stroke="#000" stroke-width="1.7" stroke-linecap="round" fill="none"/>
<circle cx="595.2" cy="313.35" r="1.3" fill="#000"/>
<text x="541.6" y="305.6" font-size="10" font-weight="normal" text-anchor="start" fill="#000" textLength="20.2" lengthAdjust="spacingAndGlyphs">ERα</text>
<g fill="#222">
<rect x="567.3" y="293.75" width="5.400000000000091" height="1.2999999999999545" fill="#000"/>
</g>
<g fill="#666">
<rect x="567.0" y="307.125" width="5.0" height="0.9500000000000455" fill="#000"/>
<rect x="569.025" y="305.1" width="0.9500000000000455" height="5.0" fill="#000"/>
</g>
<rect x="576.0500000000001" y="290.05" width="8.599999999999955" height="7.9999999999999885" fill="#fff" stroke="#000" stroke-width="1.7"/>
<rect x="575.2" y="304.1" width="10.299999999999955" height="9.399999999999977" fill="#000"/>
<rect x="419.85" y="297.75" width="38.099999999999966" height="10.399999999999977" fill="#fff" stroke="#000" stroke-width="1.5"/>
<rect x="478.75" y="297.75" width="35.299999999999955" height="10.399999999999977" fill="#fff" stroke="#000" stroke-width="1.5"/>
<line x1="458.7" y1="302.7" x2="478" y2="302.7" stroke="#000" stroke-width="2"/>
<polyline points="468.3,302.7 468.3,293.7 483.3,293.7" fill="none" stroke="#000" stroke-width="2.1" stroke-linejoin="miter"/>
<polygon points="480.0,290.7 493.3,293.7 480.0,296.7" fill="#000"/>
<text x="438.3" y="306.0" font-size="9" font-weight="normal" text-anchor="middle" fill="#000" >Ins-695</text>
<text x="493.8" y="306.0" font-size="9" font-weight="normal" text-anchor="middle" fill="#000" >Luc</text>
<text x="394" y="513.6" font-size="10" font-weight="bold" text-anchor="end" fill="#000" >Tamoxifen</text>
<text x="373.1" y="531.6" font-size="10" font-weight="bold" text-anchor="end" fill="#000" >ICI</text>
<text x="374.6" y="549.1" font-size="10" font-weight="bold" text-anchor="end" fill="#000" >E2</text>
<rect x="431.70000000000005" y="508.85" width="7.7999999999999545" height="1.5" fill="#000"/>
<rect x="477.70000000000005" y="508.85" width="7.7999999999999545" height="1.5" fill="#000"/>
<rect x="525.15" y="508.925" width="7.2999999999999545" height="1.3500000000000227" fill="#000"/>
<rect x="528.125" y="505.95000000000005" width="1.349999999999909" height="7.2999999999999545" fill="#000"/>
<rect x="570.75" y="508.925" width="7.2999999999999545" height="1.3500000000000227" fill="#000"/>
<rect x="573.725" y="505.95000000000005" width="1.349999999999909" height="7.2999999999999545" fill="#000"/>
<rect x="616.6" y="508.85" width="7.7999999999999545" height="1.5" fill="#000"/>
<rect x="662.8000000000001" y="508.85" width="7.7999999999999545" height="1.5" fill="#000"/>
<rect x="431.70000000000005" y="527.55" width="7.7999999999999545" height="1.5" fill="#000"/>
<rect x="477.70000000000005" y="527.55" width="7.7999999999999545" height="1.5" fill="#000"/>
<rect x="524.9" y="527.55" width="7.7999999999999545" height="1.5" fill="#000"/>
<rect x="570.5" y="527.55" width="7.7999999999999545" height="1.5" fill="#000"/>
<rect x="616.85" y="527.625" width="7.2999999999999545" height="1.349999999999909" fill="#000"/>
<rect x="619.825" y="524.65" width="1.349999999999909" height="7.2999999999999545" fill="#000"/>
<rect x="663.0500000000001" y="527.625" width="7.2999999999999545" height="1.349999999999909" fill="#000"/>
<rect x="666.0250000000001" y="524.65" width="1.349999999999909" height="7.2999999999999545" fill="#000"/>
<rect x="431.70000000000005" y="546.45" width="7.7999999999999545" height="1.5" fill="#000"/>
<rect x="477.95000000000005" y="546.5250000000001" width="7.2999999999999545" height="1.349999999999909" fill="#000"/>
<rect x="480.925" y="543.5500000000001" width="1.3500000000000227" height="7.2999999999999545" fill="#000"/>
<rect x="524.9" y="546.45" width="7.7999999999999545" height="1.5" fill="#000"/>
<rect x="570.75" y="546.5250000000001" width="7.2999999999999545" height="1.349999999999909" fill="#000"/>
<rect x="573.725" y="543.5500000000001" width="1.349999999999909" height="7.2999999999999545" fill="#000"/>
<rect x="616.6" y="546.45" width="7.7999999999999545" height="1.5" fill="#000"/>
<rect x="663.0500000000001" y="546.5250000000001" width="7.2999999999999545" height="1.349999999999909" fill="#000"/>
<rect x="666.0250000000001" y="543.5500000000001" width="1.349999999999909" height="7.2999999999999545" fill="#000"/>
</svg>
</body></html>
